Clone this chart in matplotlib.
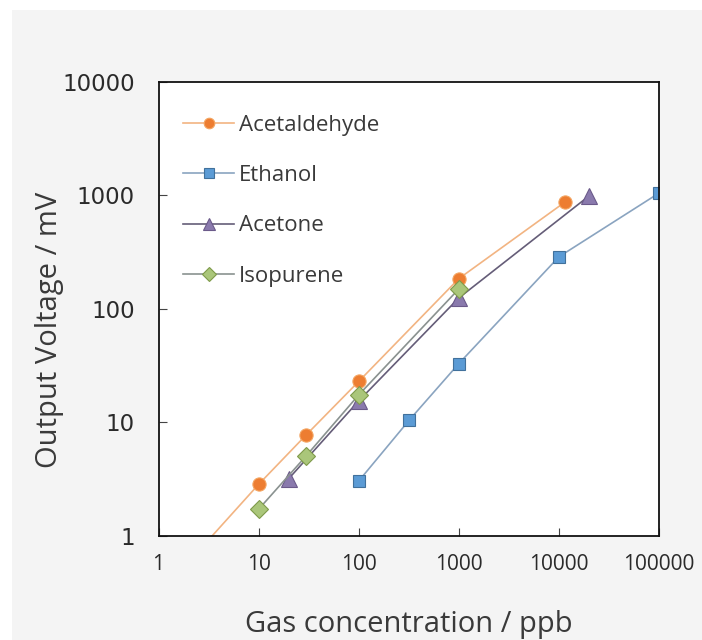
import matplotlib
matplotlib.use("Agg")
import matplotlib.pyplot as plt
from matplotlib.patches import Rectangle
from matplotlib.ticker import FixedLocator, NullLocator

plt.rcParams["font.family"] = ["Open Sans", "DejaVu Sans"]

# ── Datos ───────────────────────────────────────────────────────────────────
acet_x = [1, 10, 30, 100, 1000, 11600]
acet_y = [0.3, 2.85, 7.8, 23, 185, 880]

eth_x = [100, 320, 1000, 10000, 100000]
eth_y = [3.05, 10.5, 33, 288, 1050]

acetone_x = [20, 100, 1000, 20000]
acetone_y = [3.2, 15.5, 125, 990]

iso_x = [10, 30, 100, 1000]
iso_y = [1.72, 5.1, 17.5, 150]

ticks = [1, 10, 100, 1000, 10000, 100000]
tick_labels = ["1", "10", "100", "1000", "10000", "100000"]
yticks = [1, 10, 100, 1000, 10000]
ytick_labels = ["1", "10", "100", "1000", "10000"]

# ── Figura ──────────────────────────────────────────────────────────────────
fig = plt.figure(figsize=(7.02, 6.4), dpi=100)
fig.patch.set_facecolor("white")
fig.add_artist(Rectangle((12 / 702, 0), 1, 1 - 10 / 640, transform=fig.transFigure,
                         facecolor="#f4f4f4", edgecolor="none", zorder=-10))

ax = fig.add_axes([0.2258, 0.1625, 0.7129, 0.7094])
ax.set_facecolor("white")

ax.plot(acet_x, acet_y, color="#f2b482", lw=1.2, marker="o", ms=9.5,
        mfc="#ed7d31", mec="#f4a460", mew=0.8, label="Acetaldehyde")
ax.plot(eth_x, eth_y, color="#8aa4c0", lw=1.2, marker="s", ms=9,
        mfc="#5b9bd5", mec="#41719c", mew=0.8, label="Ethanol")
ax.plot(acetone_x, acetone_y, color="#655d78", lw=1.2, marker="^", ms=11,
        mfc="#8a7aad", mec="#6b5a8a", mew=0.8, label="Acetone")
ax.plot(iso_x, iso_y, color="#8a9290", lw=1.2, marker="D", ms=9,
        mfc="#aac67a", mec="#7f9a4a", mew=0.8, label="Isopurene")

ax.set_xscale("log")
ax.set_yscale("log")
ax.set_xlim(1, 100000)
ax.set_ylim(1, 10000)

ax.xaxis.set_major_locator(FixedLocator(ticks))
ax.set_xticklabels(tick_labels)
ax.yaxis.set_major_locator(FixedLocator(yticks))
ax.set_yticklabels(ytick_labels, family=["DejaVu Sans"])
ax.xaxis.set_minor_locator(NullLocator())
ax.yaxis.set_minor_locator(NullLocator())
ax.tick_params(axis="both", direction="in", length=6, width=0.8, color="#444444",
               labelcolor="#2a2a2a")
ax.tick_params(axis="x", pad=13, labelsize=15)
ax.tick_params(axis="y", pad=17, labelsize=16.5)

for s in ax.spines.values():
    s.set_color("#111111")
    s.set_linewidth(1.3)

ax.set_xlabel("Gas concentration / ppb", fontsize=21, color="#3a3a3a", va="center")
ax.set_ylabel("Output Voltage / mV", fontsize=21, color="#3a3a3a", va="center")
ax.xaxis.set_label_coords(0.5, -0.194)
ax.yaxis.set_label_coords(-0.218, 0.454)

leg = ax.legend(loc="upper left", bbox_to_anchor=(0.049, 0.928), frameon=False,
                fontsize=16, handlelength=2.3, handletextpad=0.2, labelspacing=1.32,
                borderaxespad=0, borderpad=0, markerscale=0.8)
for t in leg.get_texts():
    t.set_color("#3a3a3a")

plt.savefig("out.png", dpi=100, facecolor="white")
plt.close()
